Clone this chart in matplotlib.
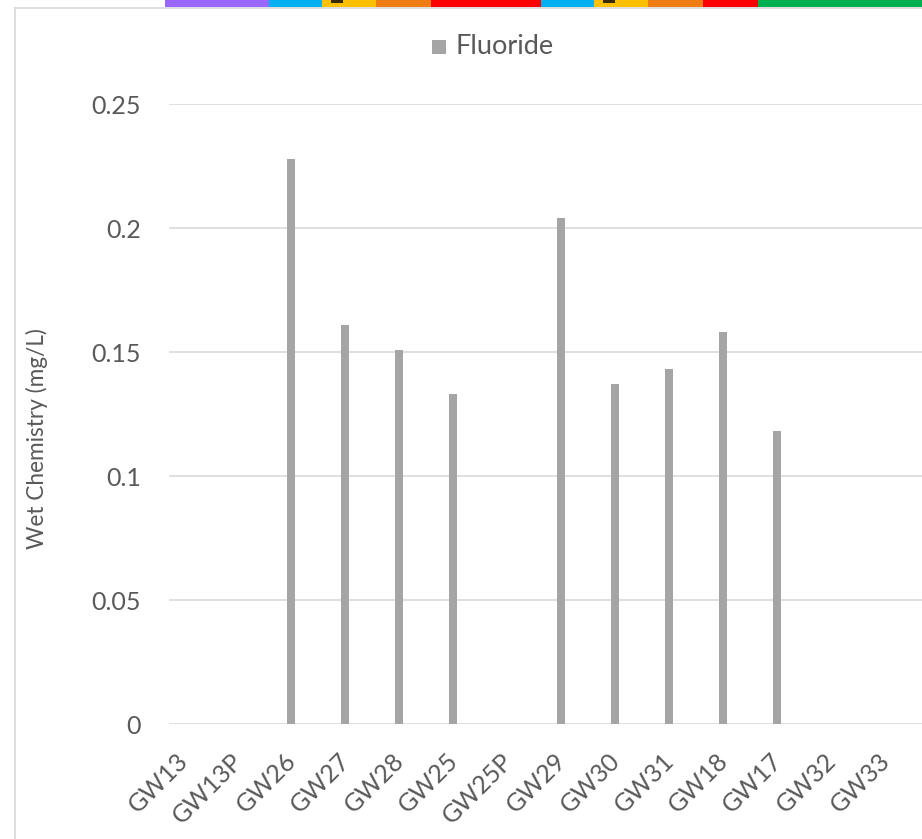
import matplotlib
matplotlib.use("Agg")
import matplotlib.pyplot as plt
from matplotlib.patches import Rectangle
from matplotlib.lines import Line2D
import numpy as np

categories = ["GW13", "GW13P", "GW26", "GW27", "GW28", "GW25", "GW25P",
              "GW29", "GW30", "GW31", "GW18", "GW17", "GW32", "GW33"]
fluoride = [np.nan, np.nan, 0.228, 0.161, 0.151, 0.133, np.nan,
            0.204, 0.137, 0.143, 0.158, 0.118, np.nan, np.nan]
yticks = [0, 0.05, 0.1, 0.15, 0.2, 0.25]
ytick_labels = ["0", "0.05", "0.1", "0.15", "0.2", "0.25"]

strip_edges = [165, 269, 322, 376, 431, 541, 594, 648, 703, 758, 922]
strip_colors = ["#9966ff", "#00b0f0", "#ffc000", "#f07c14", "#ff0000",
                "#00b0f0", "#ffc000", "#f07c14", "#ff0000", "#00b050"]

W, H = 922, 839
fig = plt.figure(figsize=(W / 100, H / 100), dpi=100)
plt.rcParams['font.family'] = ['Lato', 'DejaVu Sans']

# chart border
fig.add_artist(Line2D([14.5 / W, 14.5 / W], [0, 1 - 7.5 / H], color="#d9d9d9", lw=1.2))
fig.add_artist(Line2D([14.5 / W, 1], [1 - 7.5 / H, 1 - 7.5 / H], color="#d9d9d9", lw=1.2))

# top color strip
for i, c in enumerate(strip_colors):
    x0, x1 = strip_edges[i], strip_edges[i + 1]
    fig.add_artist(Rectangle((x0 / W, 1 - 7 / H), (x1 - x0) / W, 7 / H,
                             transform=fig.transFigure, color=c, lw=0))
for x0, x1 in [(331, 343), (603, 615)]:
    fig.add_artist(Rectangle((x0 / W, 1 - 2.5 / H), (x1 - x0) / W, 2.5 / H,
                             transform=fig.transFigure, color="#3a2a00", lw=0))

left, right, top, bottom = 169, 925, 104, 724
ax = fig.add_axes([left / W, 1 - bottom / H, (right - left) / W, (bottom - top) / H])
x = np.arange(len(categories))
ax.bar(x - 0.24, fluoride, width=0.15, color="#a5a5a5", zorder=3)
ax.set_xlim(-0.5, len(categories) - 0.5)
ax.set_ylim(0, 0.25)
ax.set_yticks(yticks)
ax.set_yticklabels(ytick_labels)
ax.grid(axis="y", color="#d9d9d9", lw=1.2, zorder=0)
ax.set_axisbelow(True)
for s in ax.spines.values():
    s.set_visible(False)
ax.tick_params(axis="y", length=0, pad=20, labelsize=18, labelcolor="#595959")
ax.tick_params(axis="x", length=0, pad=24, labelsize=18, labelcolor="#595959")
ax.set_xticks(x - 0.21)
ax.set_xticklabels(categories, rotation=45, ha="right", va="center",
                   rotation_mode="anchor")
ax.set_ylabel("Wet Chemistry (mg/L)", fontsize=16.3, color="#595959")
ax.yaxis.set_label_coords((37 - left) / (right - left), (bottom - 439) / (bottom - top))
ax.yaxis.label.set_va("center")
ax.patch.set_alpha(0)

# legend
fig.add_artist(Rectangle((432 / W, 1 - 54 / H), 14 / W, 14 / H,
                         transform=fig.transFigure, color="#a5a5a5", lw=0))
fig.text(455 / W, 1 - 47 / H, "Fluoride", fontsize=19.5, color="#595959",
         ha="left", va="center")

fig.savefig("out.png", dpi=100)
